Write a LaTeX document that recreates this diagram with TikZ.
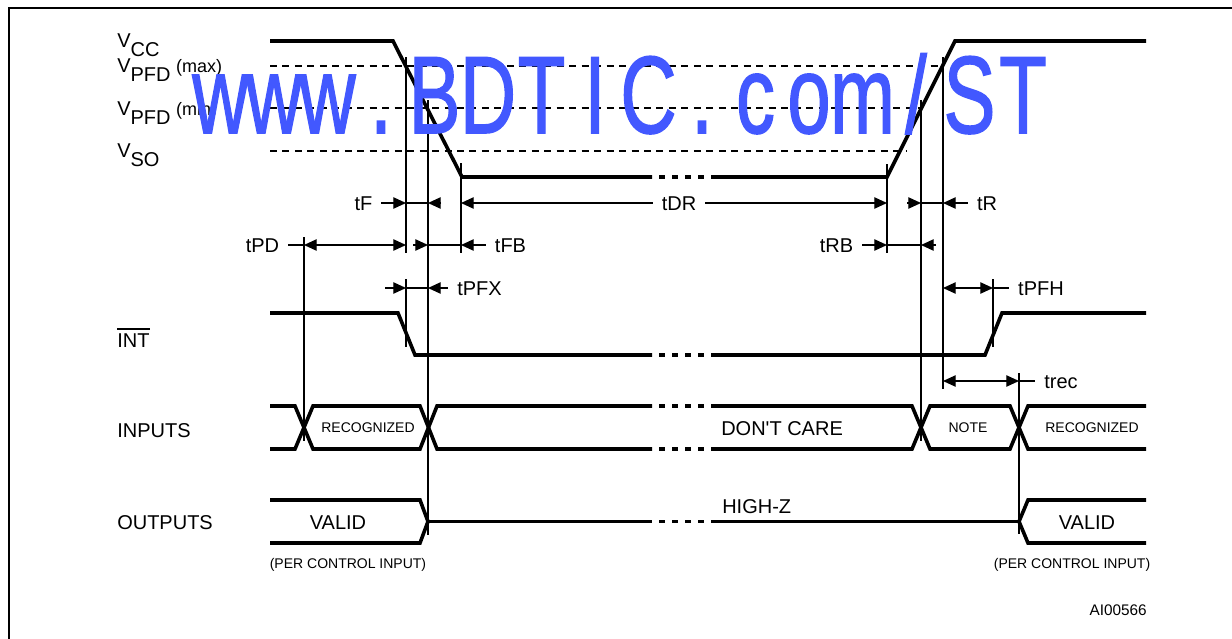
\documentclass[tikz,border=0pt]{standalone}
\usepackage{fontspec}
\setmainfont{Liberation Sans}
\newfontfamily\wmfont{Liberation Sans}[FakeBold=1.4]
\usetikzlibrary{arrows.meta}
\definecolor{wmblue}{RGB}{66,88,255}
\begin{document}
\begin{tikzpicture}[x=0.75pt,y=-0.75pt,
  >={Triangle[length=9.5pt,width=8.5pt]},
  wave/.style={line width=2.7pt},
  brk/.style={line width=2.7pt,dash pattern=on 4.5pt off 5.25pt},
  thinl/.style={line width=0.95pt},
  dim/.style={line width=0.95pt},
  dashl/.style={line width=0.9pt,dash pattern=on 5.25pt off 4.1pt},
  lab/.style={font=\fontsize{15pt}{18pt}\selectfont,inner sep=0pt},
  small/.style={font=\fontsize{10.5pt}{12pt}\selectfont,inner sep=0pt},
  tlab/.style={font=\fontsize{15pt}{18pt}\selectfont,inner xsep=6.6pt,inner ysep=0pt,anchor=base},
  wmk/.style={font=\wmfont\fontsize{82.5pt}{90pt}\selectfont,text=wmblue,inner sep=0pt,anchor=base}]
\useasboundingbox (0,0) rectangle (1232,639);
% frame
\draw[line width=2.2pt] (9,639) -- (9,8) -- (1232,8);

% left labels
\node[lab,anchor=base west] (lvcc) at (117,47) {V\raisebox{-6.75pt}{CC}};
\node[lab,anchor=base west] (lvmax) at (117,72) {V\raisebox{-6.75pt}{PFD} {\fontsize{13.5pt}{15pt}\selectfont(max)}};
\node[lab,anchor=base west] (lvmin) at (117,115) {V\raisebox{-6.75pt}{PFD} {\fontsize{13.5pt}{15pt}\selectfont(min)}};
\node[lab,anchor=base west] (lvso) at (117,157) {V\raisebox{-6.75pt}{SO}};
\node[lab,anchor=base west] (lint) at (117,347) {INT};
\draw[line width=0.9pt] ([yshift=3pt]lint.north west) -- ([yshift=3pt]lint.north east);
\node[lab,anchor=base west] (linp) at (117,437) {INPUTS};
\node[lab,anchor=base west] (lout) at (117,529) {OUTPUTS};

% dashed levels
\draw[dashl] (270,66) -- (943,66);
\draw[dashl] (270,108) -- (921,108);
\draw[dashl] (270,151) -- (906,151);

% VCC waveform
\draw[wave] (270,41) -- (393,41) -- (462,177) -- (652,177);
\draw[brk] (659,177) -- (705,177);
\draw[wave] (711,177) -- (887,177) -- (955,41) -- (1146,41);

% INT waveform
\draw[wave] (270,313) -- (398,313) -- (415,355) -- (652,355);
\draw[brk] (659,355) -- (705,355);
\draw[wave] (711,355) -- (985,355) -- (1002,313) -- (1146,313);

% INPUTS
\draw[wave] (270,406) -- (295,406) -- (313,449) -- (420,449) -- (437,406) -- (652,406);
\draw[brk] (659,406) -- (705,406);
\draw[wave] (711,406) -- (912,406) -- (930,449) -- (1010,449) -- (1028,406) -- (1146,406);
\draw[wave] (270,449) -- (295,449) -- (313,406) -- (420,406) -- (437,449) -- (652,449);
\draw[brk] (659,449) -- (705,449);
\draw[wave] (711,449) -- (912,449) -- (930,406) -- (1010,406) -- (1028,449) -- (1146,449);

% OUTPUTS
\draw[wave] (270,500) -- (420,500) -- (428,521.5) -- (420,543) -- (270,543);
\draw[wave] (428,521.5) -- (652,521.5);
\draw[brk] (659,521.5) -- (705,521.5);
\draw[wave] (711,521.5) -- (1019,521.5);
\draw[wave] (1146,500) -- (1028,500) -- (1019,521.5) -- (1028,543) -- (1146,543);

% vertical reference lines
\draw[thinl] (406,57) -- (406,253);
\draw[thinl] (406,279) -- (406,347);
\draw[thinl] (428,100) -- (428,535);
\draw[thinl] (461,163) -- (461,253);
\draw[thinl] (304,237) -- (304,441);
\draw[thinl] (887,164) -- (887,253);
\draw[thinl] (921,100) -- (921,441);
\draw[thinl] (943,57) -- (943,389);
\draw[thinl] (993,279) -- (993,347);
\draw[thinl] (1019,373) -- (1019,534);

% coordinates
\coordinate (xPD) at (304,0);
\coordinate (xF1) at (406,0);
\coordinate (xF2) at (428,0);
\coordinate (xFB) at (461,0);
\coordinate (xRB) at (887,0);
\coordinate (xR1) at (921,0);
\coordinate (xR2) at (943,0);
\coordinate (xPFH) at (993,0);
\coordinate (xREC) at (1019,0);
\coordinate (yF) at (0,203);
\coordinate (yB) at (0,245);
\coordinate (yX) at (0,288);
\coordinate (yC) at (0,381);

% timing labels
\node[tlab] (ltF) at (363.5,210.5) {tF};
\node[tlab] (ltDR) at (679,210.5) {tDR};
\node[tlab] (ltR) at (987,210.5) {tR};
\node[tlab] (ltPD) at (262.5,252.5) {tPD};
\node[tlab] (ltFB) at (510.5,252.5) {tFB};
\node[tlab] (ltRB) at (836.5,252.5) {tRB};
\node[tlab] (ltPFX) at (479.5,295.5) {tPFX};
\node[tlab] (ltPFH) at (1041,295.5) {tPFH};
\node[tlab] (ltrec) at (1061,388.5) {trec};

% tF / tDR / tR
\coordinate (tFe) at (441,203);
\draw[dim,->] (ltF.east |- yF) -- (xF1 |- yF);
\draw[dim] (xF1 |- yF) -- (xF2 |- yF);
\draw[dim,->] (tFe) -- (xF2 |- yF);
\draw[dim,<-] (xFB |- yF) -- (ltDR.west |- yF);
\draw[dim,->] (ltDR.east |- yF) -- (xRB |- yF);
\coordinate (tRs) at (907,203);
\draw[dim,->] (tRs) -- (xR1 |- yF);
\draw[dim] (xR1 |- yF) -- (xR2 |- yF);
\draw[dim,<-] (xR2 |- yF) -- (ltR.west |- yF);

% tPD / tFB / tRB
\draw[dim] (ltPD.east |- yB) -- (xPD |- yB);
\draw[dim,<->] (xPD |- yB) -- (xF1 |- yB);
\coordinate (tFBs) at (413,245);
\draw[dim,->] (tFBs) -- (xF2 |- yB);
\draw[dim] (xF2 |- yB) -- (xFB |- yB);
\draw[dim,<-] (xFB |- yB) -- (ltFB.west |- yB);
\draw[dim,->] (ltRB.east |- yB) -- (xRB |- yB);
\draw[dim] (xRB |- yB) -- (xR1 |- yB);
\coordinate (tRBe) at (936,245);
\draw[dim,->] (tRBe) -- (xR1 |- yB);

% tPFX / tPFH
\coordinate (tPFXs) at (385,288);
\draw[dim,->] (tPFXs) -- (xF1 |- yX);
\draw[dim] (xF1 |- yX) -- (xF2 |- yX);
\draw[dim,<-] (xF2 |- yX) -- (ltPFX.west |- yX);
\draw[dim,<->] (xR2 |- yX) -- (xPFH |- yX);
\draw[dim] (xPFH |- yX) -- (ltPFH.west |- yX);

% trec
\draw[dim,<->] (xR2 |- yC) -- (xREC |- yC);
\draw[dim] (xREC |- yC) -- (ltrec.west |- yC);

% inner texts
\node[small,anchor=base] (rec1) at (368,432) {RECOGNIZED};
\node[lab,anchor=base west] (dc) at (721,435) {DON\textquotesingle T CARE};
\node[small,anchor=base] (note) at (968,432) {NOTE};
\node[small,anchor=base] (rec2) at (1092,432) {RECOGNIZED};
\node[lab,anchor=base] (val1) at (338,529) {VALID};
\node[lab,anchor=base west] (hz) at (722,513) {HIGH-Z};
\node[lab,anchor=base] (val2) at (1087,529) {VALID};
\node[small,anchor=base] (pci1) at (348,568) {(PER CONTROL INPUT)};
\node[small,anchor=base] (pci2) at (1072,568) {(PER CONTROL INPUT)};
\node[font=\fontsize{11.5pt}{13pt}\selectfont,inner sep=0pt,anchor=base east] (ai) at (1147,615) {AI00566};

% watermark
\foreach \c [count=\i from 0] in {w,w,w,.,B,D,T,I,C,.,c,o,m,/,S,T}
  \node[wmk] (wm\i) at ({220.5+53.5*\i},133) {\scalebox{0.71}[1]{\c}};
\end{tikzpicture}
\end{document}
